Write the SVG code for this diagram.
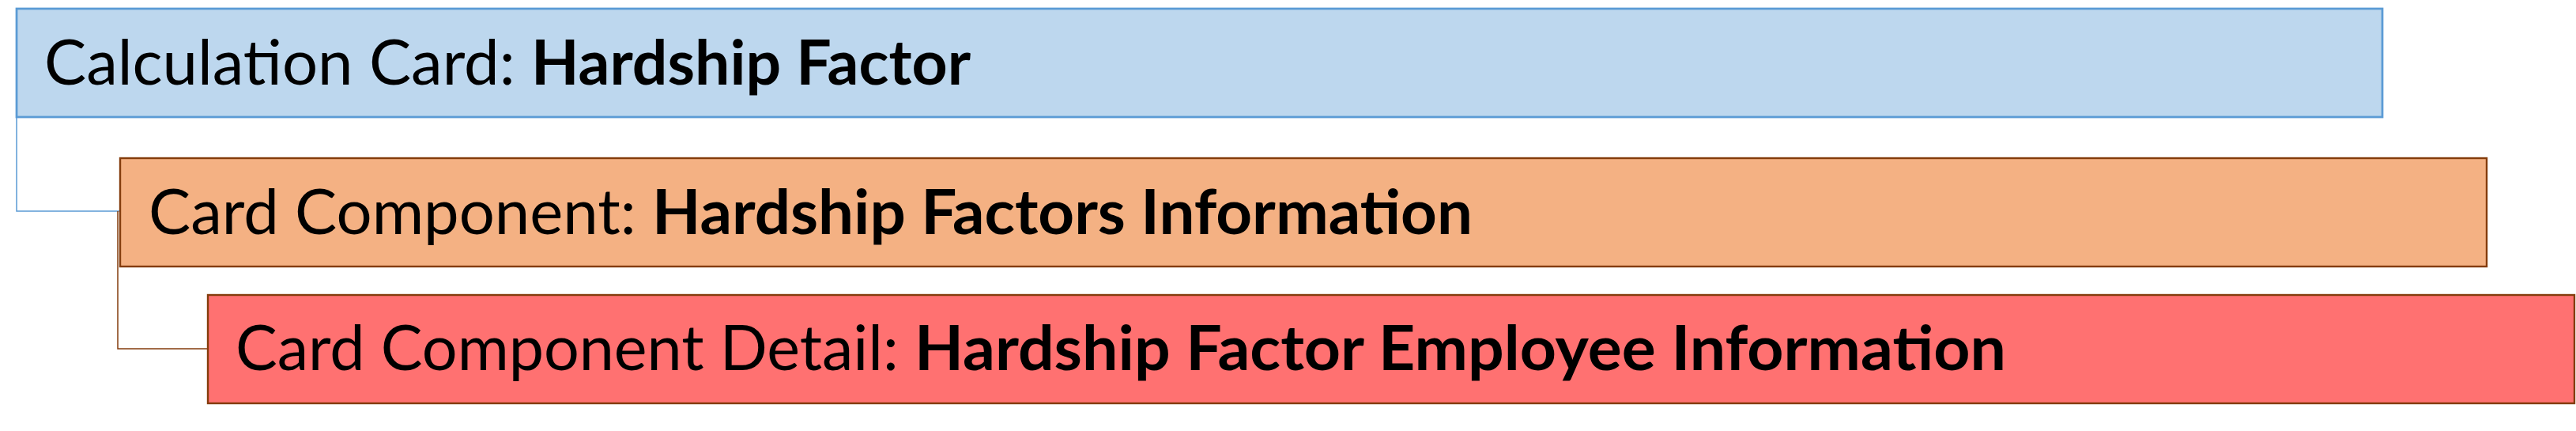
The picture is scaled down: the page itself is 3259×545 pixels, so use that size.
<svg xmlns="http://www.w3.org/2000/svg" width="3259" height="545" viewBox="0 0 3259 545">
<style>
  .t { font-family: Lato, "Open Sans", "Liberation Sans", sans-serif; font-size: 79px; fill: #000; }
  .b { font-weight: bold; }
  .conn { fill: none; stroke-width: 1.5; }
</style>
<rect width="3259" height="545" fill="#fff"/>
<g id="connectors">
  <path class="conn" d="M21 148 V267 H151" stroke="#5B9BD5"/>
  <path class="conn" d="M149 267 V441 H263" stroke="#843C0C"/>
</g>
<g id="calculation-card">
  <rect x="21" y="11" width="2993" height="137" fill="#BDD7EE" stroke="#5B9BD5" stroke-width="2.75"/>
  <text class="t" y="107"><tspan x="56" textLength="616" lengthAdjust="spacingAndGlyphs">Calculation Card: </tspan><tspan x="672" class="b" textLength="556" lengthAdjust="spacingAndGlyphs">Hardship Factor</tspan></text>
</g>
<g id="card-component">
  <rect x="152" y="200" width="2994" height="137" fill="#F4B183" stroke="#843C0C" stroke-width="2.4"/>
  <text class="t" y="296"><tspan x="188" textLength="637" lengthAdjust="spacingAndGlyphs">Card Component: </tspan><tspan x="825" class="b" textLength="1038" lengthAdjust="spacingAndGlyphs">Hardship Factors Information</tspan></text>
</g>
<g id="card-component-detail">
  <rect x="263" y="373" width="2994" height="137" fill="#FF7171" stroke="#843C0C" stroke-width="2.4"/>
  <text class="t" y="468"><tspan x="298" textLength="859" lengthAdjust="spacingAndGlyphs">Card Component Detail: </tspan><tspan x="1157" class="b" textLength="1381" lengthAdjust="spacingAndGlyphs">Hardship Factor Employee Information</tspan></text>
</g>
</svg>
